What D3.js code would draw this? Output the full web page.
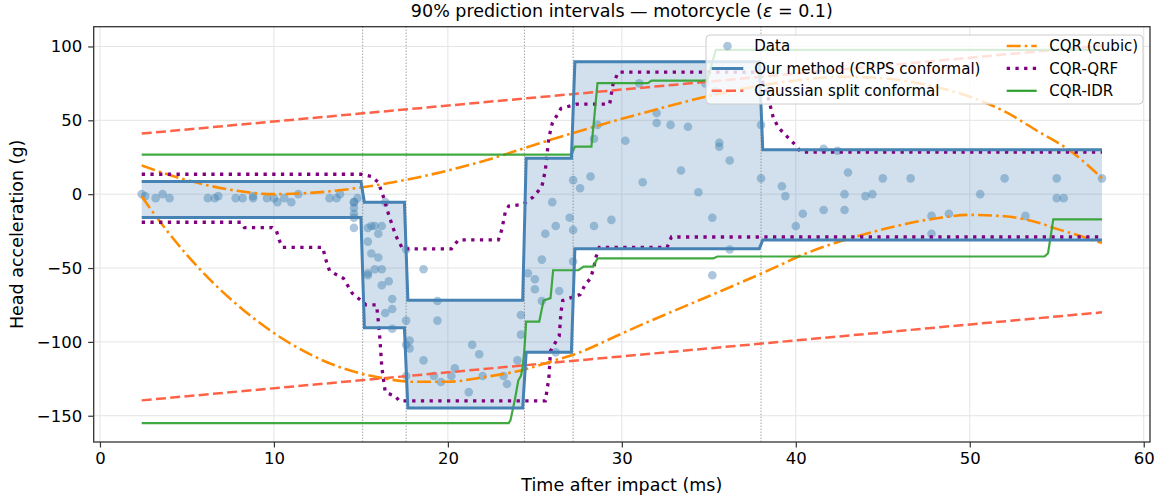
<!DOCTYPE html>
<meta charset="utf-8">
<style>
body { margin: 0; background: #fff; font-family: "DejaVu Sans", sans-serif; }
.axis text { font-size: 16.5px; fill: #000; font-family: "DejaVu Sans", sans-serif; }
.axis line { stroke: #333; stroke-width: 1.2; }
.axis path { display: none; }
.grid line { stroke: #e4e4e4; stroke-width: 1; }
.lbl { font-size: 17.5px; fill: #000; }
.leg text { font-size: 15px; fill: #000; }
</style>
<body>
<svg width="1163" height="500"></svg>
<script src="https://d3js.org/d3.v7.min.js"></script>
<script>

// motorcycle crash data (time in ms, head acceleration in g)
var times = [2.4, 2.6, 3.2, 3.6, 4.0, 6.2, 6.6, 6.8, 7.8, 8.2, 8.8, 8.8, 9.6, 10.0, 10.2, 10.6, 11.0, 11.4,
  13.2, 13.6, 13.8, 14.6, 14.6, 14.6, 14.6, 14.6, 14.6, 14.8, 15.4, 15.4, 15.4, 15.4, 15.6, 15.6, 15.8, 15.8,
  16.0, 16.0, 16.2, 16.2, 16.2, 16.4, 16.4, 16.6, 16.8, 16.8, 16.8, 17.6, 17.6, 17.6, 17.6, 17.8, 17.8, 18.6,
  18.6, 19.2, 19.4, 19.4, 19.6, 20.2, 20.4, 21.2, 21.4, 21.8, 22.0, 23.2, 23.4, 24.0, 24.2, 24.2, 24.6, 25.0,
  25.0, 25.4, 25.4, 25.6, 26.0, 26.2, 26.2, 26.4, 27.0, 27.2, 27.2, 27.2, 27.6, 28.2, 28.4, 28.4, 28.6, 29.4,
  30.2, 31.0, 31.2, 32.0, 32.0, 32.8, 33.4, 33.8, 34.4, 34.8, 35.2, 35.2, 35.4, 35.6, 35.6, 36.2, 36.2, 38.0,
  38.0, 39.2, 39.4, 40.0, 40.4, 41.6, 41.6, 42.4, 42.8, 42.8, 43.0, 44.0, 44.4, 45.0, 46.6, 47.8, 47.8, 48.8,
  50.6, 52.0, 53.2, 55.0, 55.0, 55.4, 57.6];
var accel = [0.0, -1.3, -2.7, 0.0, -2.7, -2.7, -2.7, -1.3, -2.7, -2.7, -1.3, -2.7, -2.7, -2.7, -5.4, -2.7,
  -5.4, 0.0, -2.7, -2.7, 0.0, -13.3, -5.4, -5.4, -9.3, -16.0, -22.8, -2.7, -22.8, -32.1, -53.5, -54.9, -40.2,
  -21.5, -21.5, -50.8, -42.9, -26.8, -21.5, -50.8, -61.7, -5.4, -80.4, -59.0, -71.0, -91.1, -77.7, -37.5,
  -85.6, -123.1, -101.9, -99.1, -104.4, -112.5, -50.8, -123.1, -85.6, -72.3, -127.2, -123.1, -117.9, -134.0,
  -101.9, -108.4, -123.1, -123.1, -128.5, -112.5, -95.1, -81.8, -53.5, -64.4, -57.6, -72.3, -44.3, -26.8,
  -5.4, -107.1, -21.5, -65.6, -16.0, -45.6, -24.2, 9.5, 4.0, 12.0, -21.5, 37.5, 46.9, -17.4, 36.2, 75.0, 8.1,
  54.9, 48.2, 46.9, 16.0, 45.6, 1.3, 75.0, -16.0, -54.9, 69.6, 34.8, 32.1, -37.5, 22.8, 46.9, 10.7, 5.4,
  -1.3, -21.5, -13.3, 30.8, -10.7, 29.4, 0.0, -10.7, 14.7, -1.3, 0.0, 10.7, 10.7, -26.8, -14.7, -13.3, 0.0,
  10.7, -14.7, -2.7, 10.7, -2.7, 10.7];

// split points of our method's partition
var splits = [15.1, 17.6, 24.4, 27.2, 38.0];
var oursBreaks = [2.4, 15.1, 17.6, 24.4, 27.2, 38.0, 57.6];
var oursUpper = [8.5, -5.4, -71.8, 24.4, 89.6, 30.0];
var oursLower = [-15.8, -90.5, -144.7, -107.0, -37.0, -31.0];

var gaussX = [2.4, 57.6];
var gaussUpper = [41.0, 100.6];
var gaussLower = [-139.6, -80.0];

var cqrUpper = [[2.4, 19.4], [5, 9.5], [7.5, 3], [10, 0], [12.5, 1.2], [15, 4.5], [17.5, 9.5], [20, 16],
  [22.5, 24], [25, 33.5], [27.5, 42.5], [30, 51], [32.5, 59], [35, 66.5], [37.5, 72.5], [40, 77],
  [42.5, 79.5], [45, 78.5], [47.5, 74], [50, 66], [52, 56], [54, 42], [55.7, 30], [57.6, 10.8]];
var cqrLower = [[2.4, -1.6], [4, -27], [6, -54], [8, -76], [10, -94], [12, -108], [14, -118], [16, -124],
  [18, -127], [20, -127], [22, -124], [24.3, -119], [26, -113], [27.6, -107], [29.5, -97], [31.4, -87],
  [34, -74], [36.8, -60], [39.1, -48], [40, -43], [42, -34], [44, -27], [46, -21], [48, -16.5], [50, -14],
  [52, -15], [54, -19.5], [55, -23.5], [56, -27], [57.6, -33]];

var qrfUpper = [[2.4, 13.5], [15.0, 13.5], [15.6, 12], [16.0, 8], [16.3, -2], [16.6, -14], [17.0, -28],
  [17.4, -37], [20.2, -37], [20.6, -31], [22.9, -31], [23.1, -24], [23.3, -12], [23.5, -8], [24.3, -7],
  [24.9, -2], [25.4, 5], [25.6, 16], [25.8, 38], [26.0, 48], [26.5, 58], [27.4, 61], [29.3, 61],
  [29.5, 75], [29.8, 82.6], [37.9, 82.6], [38.4, 66], [38.7, 52], [39.0, 45], [39.5, 39], [40.0, 33],
  [40.3, 28.4], [57.6, 28.4]];
var qrfLower = [[2.4, -19], [8.1, -19], [8.3, -22.6], [9.9, -22.6], [10.15, -25], [10.3, -31], [10.5, -36],
  [12.8, -36], [13.0, -45], [13.2, -52], [14.0, -57], [14.5, -67], [15.3, -75], [15.9, -75], [16.0, -86],
  [16.1, -99], [16.2, -117], [16.4, -134], [17.0, -137], [17.2, -140], [25.6, -140], [25.8, -125],
  [25.9, -106], [26.4, -96], [26.5, -80], [26.6, -72], [27.0, -70.4], [27.6, -68], [27.9, -61],
  [28.2, -57], [28.4, -49], [28.5, -43], [28.7, -36], [32.6, -36], [32.85, -29], [57.6, -29]];

var idrUpper = [[2.4, 26.8], [27.1, 26.8], [27.3, 32.2], [28.25, 32.2], [28.4, 50], [28.6, 75.2],
  [31.5, 75.2], [31.7, 76.9], [34.9, 76.9], [35.4, 97.7], [57.6, 97.7]];
var idrLower = [[2.4, -155], [23.5, -155], [23.6, -153], [23.85, -139], [24.05, -126], [24.2, -123],
  [24.3, -117], [24.4, -105], [24.5, -86.3], [25.25, -86.3], [25.5, -72], [25.9, -70.4], [26.05, -51.5],
  [27.5, -51.5], [27.8, -49], [28.35, -49], [28.6, -43.5], [35.25, -43.5], [35.5, -42.2], [54.3, -42.2],
  [54.5, -40], [54.8, -17], [57.6, -17]];

var xTicks = [0, 10, 20, 30, 40, 50, 60];
var yTicks = [-150, -100, -50, 0, 50, 100];

var svg = d3.select("svg"),
    margin = {top: 26.7, right: 13, bottom: 58, left: 93.7},
    width = +svg.attr("width") - margin.left - margin.right,
    height = +svg.attr("height") - margin.top - margin.bottom;

// matplotlib-style 5% margins
var xExt = d3.extent(times), xPad = 0.05 * (xExt[1] - xExt[0]);
var allY = accel.concat(gaussUpper, gaussLower, idrLower.map(d => d[1]), idrUpper.map(d => d[1]));
var yExt = d3.extent(allY), yPad = 0.05 * (yExt[1] - yExt[0]);

var x = d3.scaleLinear().domain([xExt[0] - xPad, xExt[1] + xPad]).range([0, width]);
var y = d3.scaleLinear().domain([yExt[0] - yPad, yExt[1] + yPad]).range([height, 0]);

var g = svg.append("g").attr("transform", "translate(" + margin.left + "," + margin.top + ")");

// grid
g.append("g").attr("class", "grid").selectAll("line").data(xTicks).enter().append("line")
    .attr("x1", d => x(d)).attr("x2", d => x(d)).attr("y1", 0).attr("y2", height);
g.append("g").attr("class", "grid").selectAll("line").data(yTicks).enter().append("line")
    .attr("y1", d => y(d)).attr("y2", d => y(d)).attr("x1", 0).attr("x2", width);

svg.append("clipPath").attr("id", "clip").append("rect").attr("width", width).attr("height", height);
var plot = g.append("g").attr("clip-path", "url(#clip)");

// our method: piecewise constant band
var ramp = 0.1, oursPts = [];
for (var i = 0; i < oursUpper.length; i++) {
  var a = oursBreaks[i] + (i > 0 ? ramp : 0),
      b = oursBreaks[i + 1] - (i < oursUpper.length - 1 ? ramp : 0);
  oursPts.push({t: a, hi: oursUpper[i], lo: oursLower[i]});
  oursPts.push({t: b, hi: oursUpper[i], lo: oursLower[i]});
}

plot.append("path").datum(oursPts)
    .attr("fill", "#4682b4").attr("fill-opacity", 0.25)
    .attr("d", d3.area().x(d => x(d.t)).y0(d => y(d.lo)).y1(d => y(d.hi)));

// split markers
plot.selectAll(".split").data(splits).enter().append("line")
    .attr("x1", d => x(d)).attr("x2", d => x(d)).attr("y1", 0).attr("y2", height)
    .attr("stroke", "#777").attr("stroke-width", 1).attr("stroke-dasharray", "1,2");

plot.selectAll(".pt").data(times).enter().append("circle")
    .attr("cx", d => x(d)).attr("cy", (d, i) => y(accel[i])).attr("r", 4.3)
    .attr("fill", "#4682b4").attr("fill-opacity", 0.45);

var line = d3.line().x(d => x(d[0])).y(d => y(d[1]));
var smooth = d3.line().curve(d3.curveMonotoneX).x(d => x(d[0])).y(d => y(d[1]));

var styles = {
  gauss: {stroke: "#ff6347", width: 2.5, dash: "10,4.3"},
  cqr: {stroke: "#ff8c00", width: 2.6, dash: "14,4,2.6,4"},
  qrf: {stroke: "#800080", width: 3.3, dash: "3.3,5.4"},
  idr: {stroke: "#2ca02c", width: 2.2, dash: null},
  ours: {stroke: "#4682b4", width: 3, dash: null}
};

function draw(pts, st, gen) {
  plot.append("path").datum(pts).attr("fill", "none")
      .attr("stroke", st.stroke).attr("stroke-width", st.width)
      .attr("stroke-dasharray", st.dash).attr("stroke-opacity", st === styles.idr ? 0.9 : 1)
      .attr("d", gen || line);
}

draw(gaussX.map((t, i) => [t, gaussUpper[i]]), styles.gauss);
draw(gaussX.map((t, i) => [t, gaussLower[i]]), styles.gauss);
draw(cqrUpper, styles.cqr, smooth);
draw(cqrLower, styles.cqr, smooth);
draw(qrfUpper, styles.qrf);
draw(qrfLower, styles.qrf);
draw(idrUpper, styles.idr);
draw(idrLower, styles.idr);
draw(oursPts.map(d => [d.t, d.hi]), styles.ours);
draw(oursPts.map(d => [d.t, d.lo]), styles.ours);

// axes
g.append("g").attr("class", "axis").attr("transform", "translate(0," + height + ")")
    .call(d3.axisBottom(x).tickValues(xTicks).tickSize(5.5).tickPadding(5));
g.append("g").attr("class", "axis")
    .call(d3.axisLeft(y).tickValues(yTicks).tickSize(5.5).tickPadding(6));

g.append("rect").attr("width", width).attr("height", height)
    .attr("fill", "none").attr("stroke", "#333").attr("stroke-width", 1.3);

svg.append("text").attr("class", "lbl").attr("text-anchor", "middle")
    .attr("x", margin.left + width / 2).attr("y", 491).text("Time after impact (ms)");
svg.append("text").attr("class", "lbl").attr("text-anchor", "middle")
    .attr("transform", "translate(23," + (margin.top + height / 2) + ") rotate(-90)")
    .text("Head acceleration (g)");

var title = svg.append("text").attr("class", "lbl").attr("text-anchor", "middle")
    .attr("x", margin.left + width / 2).attr("y", 17);
title.append("tspan").text("90% prediction intervals \u2014 motorcycle (");
title.append("tspan").attr("font-style", "italic").text("\u03b5");
title.append("tspan").text(" = 0.1)");

// legend
var legItems = [
  {label: "Data", type: "dot", col: 0, row: 0},
  {label: "Our method (CRPS conformal)", st: styles.ours, col: 0, row: 1},
  {label: "Gaussian split conformal", st: styles.gauss, col: 0, row: 2},
  {label: "CQR (cubic)", st: styles.cqr, col: 1, row: 0},
  {label: "CQR-QRF", st: styles.qrf, col: 1, row: 1},
  {label: "CQR-IDR", st: styles.idr, col: 1, row: 2}
];
var leg = svg.append("g").attr("class", "leg");
leg.append("rect").attr("x", 706).attr("y", 35).attr("width", 437).attr("height", 69).attr("rx", 4)
    .attr("fill", "#fff").attr("fill-opacity", 0.8).attr("stroke", "#ccc").attr("stroke-width", 1);
var colX = [711.7, 1006.7];
var it = leg.selectAll(".item").data(legItems).enter().append("g")
    .attr("transform", d => "translate(" + colX[d.col] + "," + (46 + d.row * 22.4) + ")");
it.filter(d => d.type === "dot").append("circle").attr("cx", 15.8).attr("r", 4.3)
    .attr("fill", "#4682b4").attr("fill-opacity", 0.45);
it.filter(d => d.st).append("line").attr("x1", 0).attr("x2", d => d.col ? 30 : 31.6)
    .attr("stroke", d => d.st.stroke).attr("stroke-width", d => d.st.width)
    .attr("stroke-dasharray", d => d.st.dash);
it.append("text").attr("x", 42.6).attr("dy", "0.35em").text(d => d.label);

</script>
</body>
